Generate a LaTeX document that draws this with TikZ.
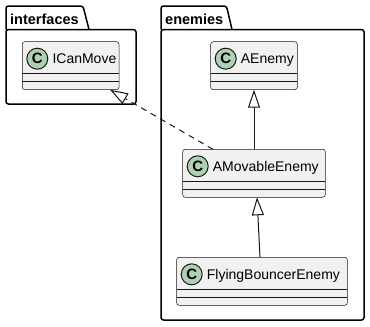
\documentclass[tikz,border=0pt]{standalone}
\usepackage{fontspec}
\setmainfont{Liberation Sans}
\usetikzlibrary{arrows.meta}
\definecolor{umlline}{HTML}{181818}
\definecolor{umlfill}{HTML}{F1F1F1}
\definecolor{umlspot}{HTML}{ADD1B2}

\tikzset{
  pkg/.style={draw=black, line width=1.5pt, rounded corners=2.5pt, line join=round},
  pkgtitle/.style={anchor=base west, inner sep=0pt, font=\fontsize{14.5}{16}\selectfont\bfseries},
  cls/.style={draw=umlline, fill=umlfill, line width=0.5pt, rounded corners=2.5pt,
              inner sep=0pt, outer sep=0pt, minimum height=48pt, anchor=north west},
  clsname/.style={anchor=base west, inner sep=0pt, font=\fontsize{14}{16}\selectfont},
  spot/.style={circle, draw=umlline, fill=umlspot, line width=1pt, minimum size=21pt,
               inner sep=0pt, font=\fontsize{15}{15}\selectfont\bfseries},
  sep/.style={draw=umlline, line width=0.5pt},
  ext/.style={draw=umlline, line width=1pt,
              -{Triangle[length=18pt, width=12pt, fill=white]}},
  real/.style={ext, dash pattern=on 6pt off 5pt}
}

% class box: name, left, top, width, label
\newcommand\umlclass[5]{%
  \node[cls, minimum width=#4pt] (#1) at (#2,#3) {};
  \draw[sep] ([yshift=-32pt]#1.north west) -- ([yshift=-32pt]#1.north east);
  \draw[sep] ([yshift=-40pt]#1.north west) -- ([yshift=-40pt]#1.north east);
  \node[spot] (#1-spot) at ([xshift=15pt,yshift=-17pt]#1.north west) {C};
  \node[clsname] (#1-name) at ([xshift=30pt,yshift=-22pt]#1.north west) {#5};
}

\begin{document}
\begin{tikzpicture}[x=1pt, y=-1pt]
  \fill[white] (0,0) rectangle (370,327);
  \useasboundingbox (0,0) rectangle (370,327);

  % package "interfaces"
  \draw[pkg] (6,29.5) -- (6,6) -- (83,6) -- (89,29.5);
  \draw[pkg] (6,29.5) rectangle (136,104);
  \node[pkgtitle] (ifaces) at (10,24) {interfaces};

  % package "enemies"
  \draw[pkg] (161,29.5) -- (161,6) -- (226.5,6) -- (232,29.5);
  \draw[pkg] (161,29.5) rectangle (364,320);
  \node[pkgtitle] (enem) at (165,24) {enemies};

  % classes
  \umlclass{icm}{22.3}{41.7}{96.7}{ICanMove}
  \umlclass{ae}{210.7}{41.7}{86.6}{AEnemy}
  \umlclass{ame}{182.7}{149.3}{142.6}{AMovableEnemy}
  \umlclass{fbe}{176.7}{257.3}{170.6}{FlyingBouncerEnemy}

  % relations
  \draw[ext] (ame.north) -- (ae.south);
  \draw[ext] ([xshift=-2pt]fbe.north) -- ([xshift=3pt]ame.south);
  \draw[real] ([xshift=-41pt]ame.north) -- ([xshift=-9pt]icm.south east);
\end{tikzpicture}
\end{document}
